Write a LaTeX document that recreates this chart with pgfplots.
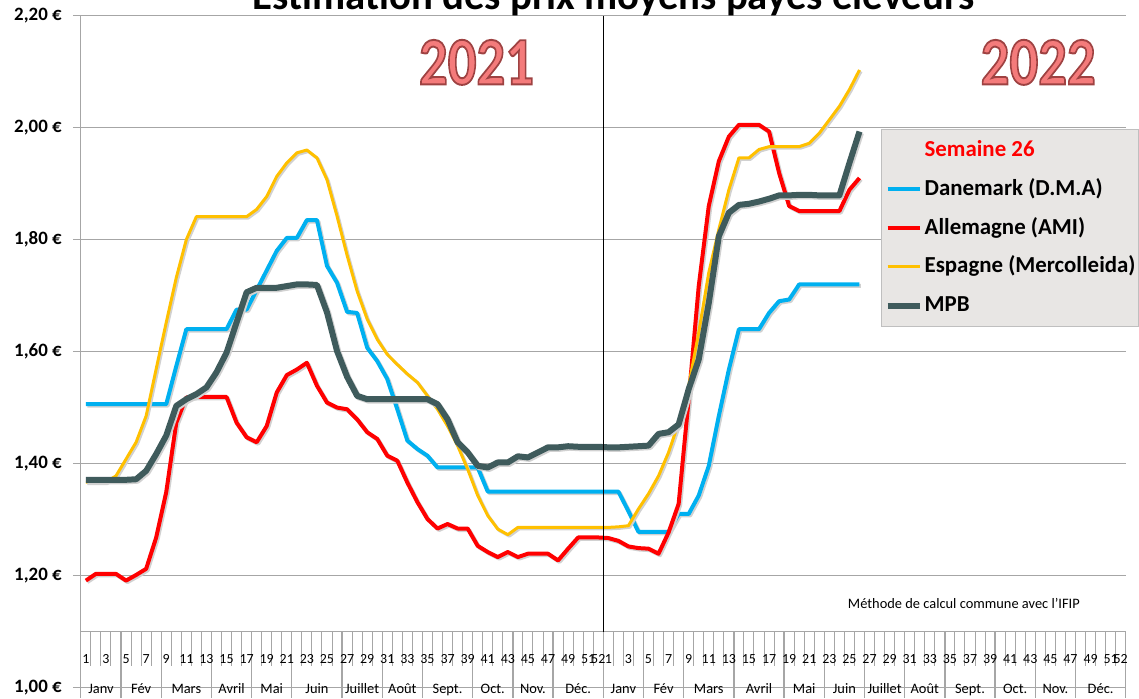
\documentclass[border=0pt]{standalone}
\usepackage{fontspec}
\setmainfont{Carlito}
\usepackage{graphicx}
\usepackage{pgfplots}
\usepackage{pgfplotstable}
\pgfplotsset{compat=1.18}

\definecolor{dk}{HTML}{00B0F0}
\definecolor{de}{HTML}{FF0000}
\definecolor{es}{HTML}{FFC000}
\definecolor{mpb}{HTML}{3F5B5C}
\definecolor{gridc}{HTML}{A6A6A6}
\definecolor{legfill}{HTML}{E8E6E4}
\definecolor{legdraw}{HTML}{BFBFBF}
\definecolor{yearc}{HTML}{F47B7B}

\tikzset{
  wk/.style={font=\fontsize{14}{14}\selectfont, anchor=base, inner sep=0bp},
  mo/.style={font=\fontsize{14.5}{14.5}\selectfont, anchor=base, inner sep=0bp},
  yr/.style={font=\bfseries\fontsize{57}{57}\selectfont, text=yearc},
}
\pgfplotsset{shadow/.style={black!18, line join=round, forget plot, xshift=1.5bp, yshift=-1.5bp}}
% annee en rose avec un contour sombre (mode de rendu fill+stroke)
\newcommand\annee[1]{\special{pdf:literal direct 2 Tr 1.6 w 0.62 0.26 0.26 RG}\scalebox{1}[1.2]{#1}\special{pdf:literal direct 0 Tr}}

% semaines 2021 = 1..52, semaines 2022 = 53..104
\pgfplotstableread{
i dk de es mpb
1 1.506 1.191 1.367 1.371
2 1.506 1.203 1.367 1.371
3 1.506 1.203 1.367 1.371
4 1.506 1.203 1.378 1.371
5 1.506 1.191 1.408 1.371
6 1.506 1.201 1.438 1.372
7 1.506 1.212 1.485 1.387
8 1.506 1.268 1.569 1.417
9 1.506 1.349 1.652 1.450
10 1.574 1.473 1.732 1.503
11 1.640 1.518 1.800 1.515
12 1.640 1.519 1.841 1.524
13 1.640 1.519 1.841 1.536
14 1.640 1.519 1.841 1.563
15 1.640 1.519 1.841 1.598
16 1.675 1.473 1.841 1.652
17 1.675 1.447 1.841 1.706
18 1.710 1.438 1.854 1.714
19 1.745 1.467 1.877 1.714
20 1.780 1.527 1.913 1.714
21 1.803 1.558 1.937 1.717
22 1.803 1.568 1.955 1.720
23 1.835 1.580 1.960 1.720
24 1.835 1.539 1.946 1.719
25 1.753 1.509 1.907 1.670
26 1.723 1.500 1.842 1.601
27 1.671 1.497 1.772 1.555
28 1.669 1.479 1.708 1.521
29 1.607 1.456 1.658 1.515
30 1.583 1.444 1.622 1.515
31 1.551 1.414 1.595 1.515
32 1.497 1.405 1.577 1.515
33 1.441 1.366 1.560 1.515
34 1.426 1.331 1.545 1.515
35 1.414 1.301 1.521 1.515
36 1.393 1.284 1.497 1.506
37 1.393 1.292 1.467 1.479
38 1.393 1.284 1.432 1.438
39 1.393 1.284 1.390 1.420
40 1.393 1.253 1.343 1.396
41 1.350 1.242 1.307 1.393
42 1.350 1.233 1.283 1.402
43 1.350 1.242 1.273 1.402
44 1.350 1.233 1.286 1.413
45 1.350 1.239 1.286 1.411
46 1.350 1.239 1.286 1.420
47 1.350 1.239 1.286 1.429
48 1.350 1.227 1.286 1.429
49 1.350 1.248 1.286 1.431
50 1.350 1.268 1.286 1.430
51 1.350 1.268 1.286 1.430
52 1.350 1.268 1.286 1.430
53 1.350 1.267 1.286 1.429
54 1.350 1.262 1.287 1.429
55 1.315 1.252 1.289 1.430
56 1.278 1.249 1.319 1.431
57 1.278 1.248 1.346 1.432
58 1.278 1.239 1.378 1.453
59 1.278 1.277 1.420 1.456
60 1.310 1.328 1.473 1.470
61 1.310 1.515 1.539 1.533
62 1.343 1.717 1.634 1.586
63 1.396 1.860 1.741 1.687
64 1.485 1.940 1.818 1.806
65 1.568 1.984 1.889 1.848
66 1.640 2.005 1.946 1.862
67 1.640 2.005 1.946 1.864
68 1.640 2.005 1.961 1.868
69 1.669 1.993 1.966 1.873
70 1.690 1.919 1.966 1.879
71 1.693 1.860 1.966 1.879
72 1.720 1.851 1.966 1.880
73 1.720 1.851 1.972 1.880
74 1.720 1.851 1.990 1.879
75 1.720 1.851 2.014 1.879
76 1.720 1.851 2.038 1.879
77 1.720 1.889 2.068 1.937
78 1.720 1.910 2.103 1.993
}\prix

\begin{document}
\begin{tikzpicture}
\begin{axis}[
  at={(0bp,0bp)}, anchor=south west,
  scale only axis,
  width=1047bp, height=673.2bp,
  xmin=0.5, xmax=104.5,
  ymin=1, ymax=2.2,
  xtick=\empty,
  ytick={1,1.2,1.4,1.6,1.8,2,2.2},
  yticklabels={{1,00 €},{1,20 €},{1,40 €},{1,60 €},{1,80 €},{2,00 €},{2,20 €}},
  ytick pos=left, tick align=outside, major tick length=8bp,
  tick style={draw=gridc, line width=1.3bp},
  yticklabel style={font=\bfseries\fontsize{19}{19}\selectfont, inner sep=0bp, xshift=-11bp},
  axis line style={draw=none},
  ymajorgrids, grid style={draw=gridc, line width=1.3bp},
  clip=false,
  legend cell align=left,
  legend style={at={(0.766,0.8317)}, anchor=north west,
    fill=legfill, draw=legdraw, line width=1bp,
    font=\bfseries\fontsize{23}{25}\selectfont,
    inner xsep=3bp, inner ysep=10bp, row sep=17bp, column sep=2bp,
    nodes={inner sep=0bp, text height=17bp, text depth=5bp}},
  legend image code/.code={\draw[#1] (0bp,0bp) -- (32bp,0bp);},
]
\addlegendimage{empty legend}
\addlegendentry{\textcolor{red}{Semaine 26}}
\addplot[shadow, line width=4bp] table[x=i, y=dk] {\prix};
\addplot[dk, line width=4bp, line join=round] table[x=i, y=dk] {\prix};
\addlegendentry{Danemark (D.M.A)}
\addplot[shadow, line width=4bp] table[x=i, y=de] {\prix};
\addplot[de, line width=4bp, line join=round] table[x=i, y=de] {\prix};
\addlegendentry{Allemagne (AMI)}
\addplot[shadow, line width=3bp] table[x=i, y=es] {\prix};
\addplot[es, line width=3bp, line join=round] table[x=i, y=es] {\prix};
\addlegendentry{Espagne (Mercolleida)}
\addplot[shadow, line width=6bp] table[x=i, y=mpb] {\prix};
\addplot[mpb, line width=6bp, line join=round] table[x=i, y=mpb] {\prix};
\addlegendentry{MPB}

\pgfplotsextra{
  % axe des categories (semaines / mois)
  \draw[gridc, line width=1.3bp] (axis cs:0.5,1.1) -- (axis cs:104.5,1.1);
  \draw[gridc, line width=1.3bp] (axis cs:0.5,2.2) -- (axis cs:0.5,1.1);
  \foreach \b in {1.5,2.5,...,103.5}
    \draw[gridc, line width=1bp] (axis cs:\b,1.1) -- (axis cs:\b,1.039);
  \foreach \b in {0.5,4.5,8.5,13.5,17.5,21.5,26.5,30.5,34.5,39.5,43.5,47.5,52.5,
                  56.5,60.5,65.5,70.5,74.5,78.5,82.5,86.5,91.5,95.5,99.5,104.5}
    \draw[gridc, line width=1.3bp] (axis cs:\b,1.1) -- (axis cs:\b,0.981);
  \foreach \w in {1,3,...,51,52} {
    \pgfmathtruncatemacro\j{\w+52}
    \node[wk] at (axis cs:\w,1.0426) {\w};
    \node[wk] at (axis cs:\j,1.0426) {\w};
  }
  % centres des mois : 2021 puis 2022
  \foreach \c/\m in {2.5/Janv,6.5/Fév,11/Mars,15.5/Avril,19.5/Mai,24/Juin,
      28.5/Juillet,32.5/Août,37/Sept.,41.5/Oct.,45.5/Nov.,50/Déc.,
      54.5/Janv,58.5/Fév,63/Mars,68/Avril,72.5/Mai,76.5/Juin,
      80.5/Juillet,84.5/Août,89/Sept.,93.5/Oct.,97.5/Nov.,102/Déc.}
    \node[mo] at (axis cs:\c,0.9893) {\m};
  % separation 2021 / 2022
  \draw[black, line width=1.5bp] (axis cs:52.5,2.2) -- (axis cs:52.5,1.1);
  % annees
  \node[yr] at (axis cs:39.88,2.1166) {\annee{2021}};
  \node[yr] at (axis cs:95.79,2.1166) {\annee{2022}};
  \node[font=\fontsize{14.5}{14.5}\selectfont] at (axis cs:88.39,1.1496)
    {Méthode de calcul commune avec l'IFIP};
}
\end{axis}
% cadre de l'image : le titre est coupe en haut
\begin{scope}
  \clip (-81bp,-11.1bp) rectangle (1058bp,688.9bp);
  \node[overlay, font=\bfseries\fontsize{41}{41}\selectfont, anchor=base] at (534bp,678.9bp)
    {Estimation des prix moyens payés éleveurs};
\end{scope}
\end{tikzpicture}
\end{document}
